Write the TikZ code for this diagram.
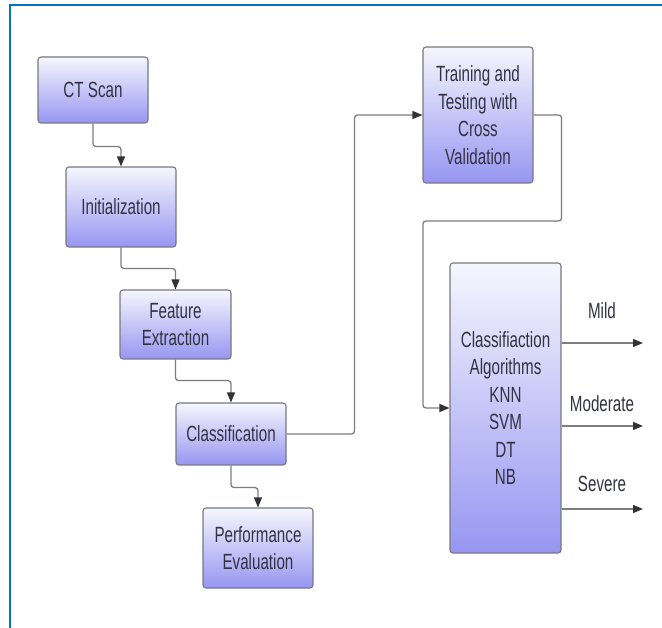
\documentclass[tikz,border=0pt]{standalone}
\usepackage{fontspec}
\setmainfont[FakeStretch=0.69]{Liberation Sans}
\usetikzlibrary{arrows.meta,calc}
\definecolor{frameblue}{RGB}{10,112,192}
\definecolor{boxtop}{RGB}{246,246,254}
\definecolor{boxbot}{RGB}{150,150,242}
\definecolor{boxline}{RGB}{120,120,128}
\definecolor{txt}{RGB}{50,50,66}
\definecolor{conn}{RGB}{125,125,125}
\definecolor{tip}{RGB}{50,50,55}
\tikzset{
  stepbox/.style={draw=boxline, line width=1.1pt, rounded corners=3pt,
    top color=boxtop, bottom color=boxbot, text=txt, align=center,
    font=\fontsize{22}{27.5}\selectfont, inner sep=0pt},
  conn/.style={draw=conn, line width=1.3pt, rounded corners=3pt,
    -{Triangle[length=10pt,width=8pt,fill=tip,color=tip]}},
  lbl/.style={text=txt, font=\fontsize{22}{24}\selectfont, inner sep=0pt}
}
\begin{document}
\begin{tikzpicture}[x=1pt,y=-1pt]
\useasboundingbox (0,0) rectangle (662,628);
\fill[white] (0,0) rectangle (662,628);
\draw[frameblue, line width=2.6pt] (10,628) -- (10,5) -- (662,5);

\node[stepbox, minimum width=110pt, minimum height=66pt] (ct) at (93,90) {CT Scan};
\node[stepbox, minimum width=110pt, minimum height=80pt] (init) at (121,207) {Initialization};
\node[stepbox, minimum width=111pt, minimum height=69pt] (feat) at (175.5,324.5) {Feature\\Extraction};
\node[stepbox, minimum width=110pt, minimum height=62pt] (cls) at (231,434) {Classification};
\node[stepbox, minimum width=110pt, minimum height=80pt] (perf) at (258,548) {Performance\\Evaluation};
\node[stepbox, minimum width=110pt, minimum height=136pt] (train) at (478,115) {Training and\\Testing with\\Cross\\Validation};
\node[stepbox, minimum width=111pt, minimum height=290pt, yshift=-3pt] (algo) at (505.5,405) {Classifiaction\\Algorithms\\KNN\\SVM\\DT\\NB};

\draw[conn] (ct.south) -- ++(0,23) -| (init.north);
\draw[conn] (init.south) -- ++(0,21) -| (feat.north);
\draw[conn] (feat.south) -- ++(0,21) -| (cls.north);
\draw[conn] (cls.south) -- ++(0,22) -| (perf.north);
\draw[conn] (cls.east) -- ++(68,0) |- (train.west);
\coordinate (bend) at (423,221);
\draw[conn] (train.east) -- ++(28,0) |- (bend) |- (algo.west);

\coordinate (omild) at (643,343);
\coordinate (omod) at (643,426);
\coordinate (osev) at (643,509);
\draw[conn] (algo.east |- omild) -- (omild);
\draw[conn] (algo.east |- omod) -- (omod);
\draw[conn] (algo.east |- osev) -- (osev);
\node[lbl] (lmild) at (602,311) {Mild};
\node[lbl] (lmod) at (602,404) {Moderate};
\node[lbl] (lsev) at (602,484) {Severe};
\end{tikzpicture}
\end{document}
